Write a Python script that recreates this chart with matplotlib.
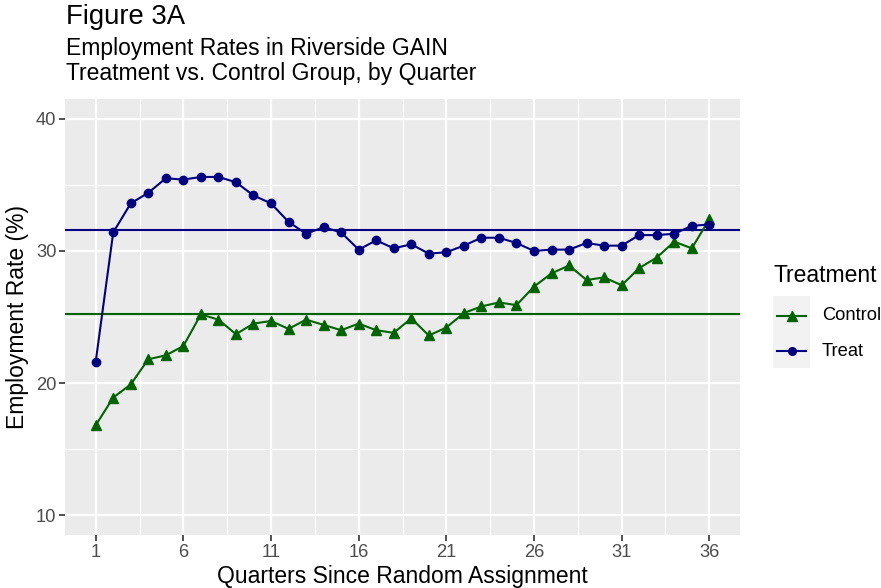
import matplotlib
matplotlib.use('Agg')
import matplotlib.pyplot as plt
from matplotlib.lines import Line2D
from matplotlib.patches import Rectangle
import numpy as np

plt.rcParams['font.family'] = ['Liberation Sans', 'DejaVu Sans']

# Data
quarters = list(range(1, 37))
treat = [21.6, 31.4, 33.6, 34.4, 35.5, 35.4, 35.6, 35.6, 35.2, 34.2,
         33.6, 32.2, 31.3, 31.8, 31.4, 30.1, 30.8, 30.2, 30.5, 29.8,
         29.9, 30.4, 31.0, 31.0, 30.6, 30.0, 30.1, 30.1, 30.6, 30.4,
         30.4, 31.2, 31.2, 31.3, 31.9, 32.0]
control = [16.8, 18.9, 19.9, 21.8, 22.1, 22.8, 25.2, 24.8, 23.7, 24.5,
           24.7, 24.1, 24.8, 24.4, 24.0, 24.5, 24.0, 23.8, 24.9, 23.6,
           24.2, 25.3, 25.8, 26.1, 25.9, 27.3, 28.3, 28.9, 27.8, 28.0,
           27.4, 28.7, 29.5, 30.7, 30.2, 32.4]
treat_mean = 31.6
control_mean = 25.2
x_ticks = [1, 6, 11, 16, 21, 26, 31, 36]
y_ticks = [10, 20, 30, 40]

treat_col = '#000080'
control_col = '#006400'

W, H = 881, 588


def fx(px):
    return px / W


def fy(py):
    return 1 - py / H


fig = plt.figure(figsize=(W / 100, H / 100), dpi=100)
ax = fig.add_axes([fx(65), fy(535), fx(740) - fx(65), fy(99) - fy(535)])
ax.set_facecolor('#EBEBEB')
for s in ax.spines.values():
    s.set_visible(False)

ax.set_xlim(-0.75, 37.75)
ax.set_ylim(8.5, 41.5)
ax.set_xticks(x_ticks)
ax.set_yticks(y_ticks)
ax.set_xticks(np.arange(3.5, 37, 5), minor=True)
ax.set_yticks([15, 25, 35], minor=True)
ax.grid(which='major', color='white', linewidth=1.6)
ax.grid(which='minor', color='white', linewidth=0.8)
ax.set_axisbelow(True)
ax.tick_params(which='major', length=4.2, width=1.2, color='#333333',
               labelsize=13.2, labelcolor='#4D4D4D', pad=2)
ax.tick_params(which='minor', length=0)

ax.plot(quarters, control, color=control_col, linewidth=1.5,
        marker='^', markersize=7.5, zorder=3)
ax.plot(quarters, treat, color=treat_col, linewidth=1.5,
        marker='o', markersize=6, zorder=3)
ax.axhline(control_mean, color=control_col, linewidth=1.5, zorder=2.5)
ax.axhline(treat_mean, color=treat_col, linewidth=1.5, zorder=2.5)

ax.set_xlabel('Quarters Since Random Assignment', fontsize=16.5, labelpad=3)
ax.set_ylabel('Employment Rate (%)', fontsize=16.5, labelpad=5)

fig.text(fx(66), fy(24), 'Figure 3A', fontsize=19.8, va='baseline', ha='left')
fig.text(fx(66), fy(55), 'Employment Rates in Riverside GAIN',
         fontsize=16.5, va='baseline', ha='left')
fig.text(fx(66), fy(80), 'Treatment vs. Control Group, by Quarter',
         fontsize=16.5, va='baseline', ha='left')

# legend, drawn by hand to match the ggplot layout
fig.add_artist(Rectangle((fx(773), fy(368)), fx(810) - fx(773), fy(296) - fy(368),
                         transform=fig.transFigure, facecolor='#F2F2F2',
                         edgecolor='none', zorder=0))
fig.text(fx(773), fy(282), 'Treatment', fontsize=16.5, va='baseline', ha='left')
legend_items = [('Control', control_col, '^', 7, 316),
                ('Treat', treat_col, 'o', 5.5, 351)]
for label, col, mk, ms, py in legend_items:
    fig.add_artist(Line2D([fx(777), fx(806)], [fy(py), fy(py)],
                          transform=fig.transFigure, color=col, linewidth=1.5))
    fig.add_artist(Line2D([fx(791.5)], [fy(py)], transform=fig.transFigure,
                          color=col, marker=mk, markersize=ms, linestyle='none'))
    fig.text(fx(822), fy(py), label, fontsize=13.2, va='center', ha='left')

fig.savefig('out.png', dpi=100)
